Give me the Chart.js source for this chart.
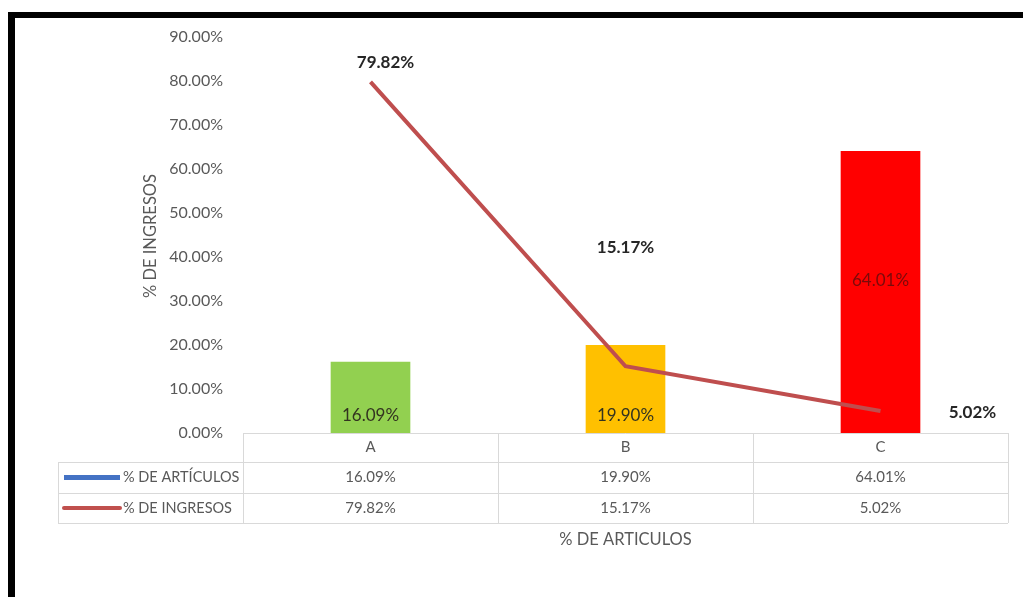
<!DOCTYPE html>
<html>
<head>
<meta charset="utf-8">
<script src="https://cdn.jsdelivr.net/npm/chart.js@4.4.0/dist/chart.umd.min.js"></script>
<style>
  html, body { margin: 0; padding: 0; background: #ffffff; }
  #wrap { width: 1023px; height: 597px; position: relative; }
</style>
</head>
<body>
<div id="wrap"><canvas id="c" width="1023" height="597"></canvas></div>
<script>
const categories = ['A', 'B', 'C'];
const articulos = [16.09, 19.90, 64.01];
const ingresos = [79.82, 15.17, 5.02];
const yTicks = [0, 10, 20, 30, 40, 50, 60, 70, 80, 90];
const seriesNames = ['% DE ARTÍCULOS', '% DE INGRESOS'];
const yTitle = '% DE INGRESOS';
const xTitle = '% DE ARTICULOS';

const FONT = 'Lato, "Open Sans", sans-serif';
const fmt = v => v.toFixed(2) + '%';

const framePlugin = {
  id: 'frame',
  beforeDraw(chart) {
    const ctx = chart.ctx;
    ctx.save();
    ctx.fillStyle = '#ffffff';
    ctx.fillRect(0, 0, chart.width, chart.height);
    ctx.fillStyle = '#000000';
    ctx.fillRect(8, 12, 7, chart.height - 12);
    ctx.fillRect(8, 12, chart.width - 8, 6);
    ctx.restore();
  }
};

const extrasPlugin = {
  id: 'extras',
  afterDatasetsDraw(chart) {
    const ctx = chart.ctx;
    ctx.save();
    // bar labels
    const barMeta = chart.getDatasetMeta(0);
    ctx.font = '17px ' + FONT;
    ctx.textAlign = 'center';
    ctx.textBaseline = 'middle';
    barMeta.data.forEach((bar, i) => {
      const v = articulos[i];
      let ly;
      if (i === 2) { ly = (bar.y + bar.base) / 2 - 12; ctx.fillStyle = '#7a0a0a'; }
      else { ly = bar.base - 17; ctx.fillStyle = '#333320'; }
      ctx.fillText(fmt(v), bar.x, ly);
    });
    // line labels
    const lineMeta = chart.getDatasetMeta(1);
    ctx.font = 'bold 17px ' + FONT;
    ctx.fillStyle = '#262626';
    lineMeta.data.forEach((pt, i) => {
      const t = fmt(ingresos[i]);
      if (i === 0) ctx.fillText(t, pt.x + 15, pt.y - 19);
      else if (i === 1) ctx.fillText(t, pt.x, pt.y - 119);
      else ctx.fillText(t, pt.x + 92, pt.y + 2);
    });
    ctx.restore();
  },
  afterDraw(chart) {
    const ctx = chart.ctx;
    const x = chart.scales.x;
    const area = chart.chartArea;
    const L = area.left, R = area.right, T = area.bottom;
    const rows = [T, T + 29, T + 60, T + 90];
    const legendLeft = 58;
    const step = (R - L) / categories.length;
    ctx.save();
    ctx.strokeStyle = '#d9d9d9';
    ctx.lineWidth = 1;
    const hline = (x1, x2, yy) => { ctx.beginPath(); ctx.moveTo(x1, yy + 0.5); ctx.lineTo(x2, yy + 0.5); ctx.stroke(); };
    const vline = (xx, y1, y2) => { ctx.beginPath(); ctx.moveTo(xx + 0.5, y1); ctx.lineTo(xx + 0.5, y2); ctx.stroke(); };
    hline(L, R, rows[0]);
    hline(legendLeft, R, rows[1]);
    hline(legendLeft, R, rows[2]);
    hline(legendLeft, R, rows[3]);
    for (let i = 0; i <= categories.length; i++) vline(Math.round(L + i * step), rows[0], rows[3]);
    vline(legendLeft, rows[1], rows[3]);

    ctx.fillStyle = '#595959';
    ctx.textAlign = 'center';
    ctx.textBaseline = 'middle';
    ctx.font = '15px ' + FONT;
    categories.forEach((c, i) => {
      const cx = x.getPixelForValue(i);
      ctx.fillText(c, cx, (rows[0] + rows[1]) / 2);
      ctx.fillText(fmt(articulos[i]), cx, (rows[1] + rows[2]) / 2);
      ctx.fillText(fmt(ingresos[i]), cx, (rows[2] + rows[3]) / 2);
    });
    // legend keys
    const keyColors = ['#4472c4', '#c0504d'];
    ctx.font = '14.5px ' + FONT;
    seriesNames.forEach((n, k) => {
      const cy = (rows[k + 1] + rows[k + 2]) / 2;
      ctx.strokeStyle = keyColors[k];
      ctx.lineWidth = k === 0 ? 5 : 4;
      ctx.lineCap = k === 1 ? 'round' : 'butt';
      ctx.beginPath(); ctx.moveTo(64, cy); ctx.lineTo(120, cy); ctx.stroke();
      ctx.fillStyle = '#595959';
      ctx.textAlign = 'left';
      ctx.fillText(n, 123, cy);
    });
    // axis titles
    ctx.textAlign = 'center';
    ctx.font = '16.5px ' + FONT;
    ctx.fillText(xTitle, (L + R) / 2, 540);
    ctx.save();
    ctx.translate(151, 236);
    ctx.rotate(-Math.PI / 2);
    ctx.fillText(yTitle, 0, 0);
    ctx.restore();
    ctx.restore();
  }
};

new Chart(document.getElementById('c'), {
  data: {
    labels: categories,
    datasets: [
      {
        type: 'bar',
        label: seriesNames[0],
        data: articulos,
        backgroundColor: ['#92d050', '#ffc000', '#ff0000'],
        borderWidth: 0,
        barThickness: 79,
        order: 2
      },
      {
        type: 'line',
        label: seriesNames[1],
        data: ingresos,
        borderColor: '#bf4e4e',
        borderWidth: 4,
        pointRadius: 0,
        tension: 0,
        order: 1
      }
    ]
  },
  options: {
    responsive: false,
    animation: false,
    devicePixelRatio: 1,
    layout: { padding: { left: 0, top: 37, right: 15, bottom: 164 } },
    plugins: { legend: { display: false }, tooltip: { enabled: false } },
    scales: {
      x: {
        type: 'category',
        display: false,
        offset: true,
        grid: { display: false }
      },
      y: {
        min: 0,
        max: 90,
        border: { display: false },
        grid: { display: false, drawTicks: false },
        afterBuildTicks: s => { s.ticks = yTicks.map(v => ({ value: v })); },
        afterFit: s => { s.width = 243; },
        ticks: {
          padding: 20,
          color: '#595959',
          font: { family: FONT, size: 16 },
          callback: v => fmt(v)
        }
      }
    }
  },
  plugins: [framePlugin, extrasPlugin]
});
</script>
</body>
</html>
